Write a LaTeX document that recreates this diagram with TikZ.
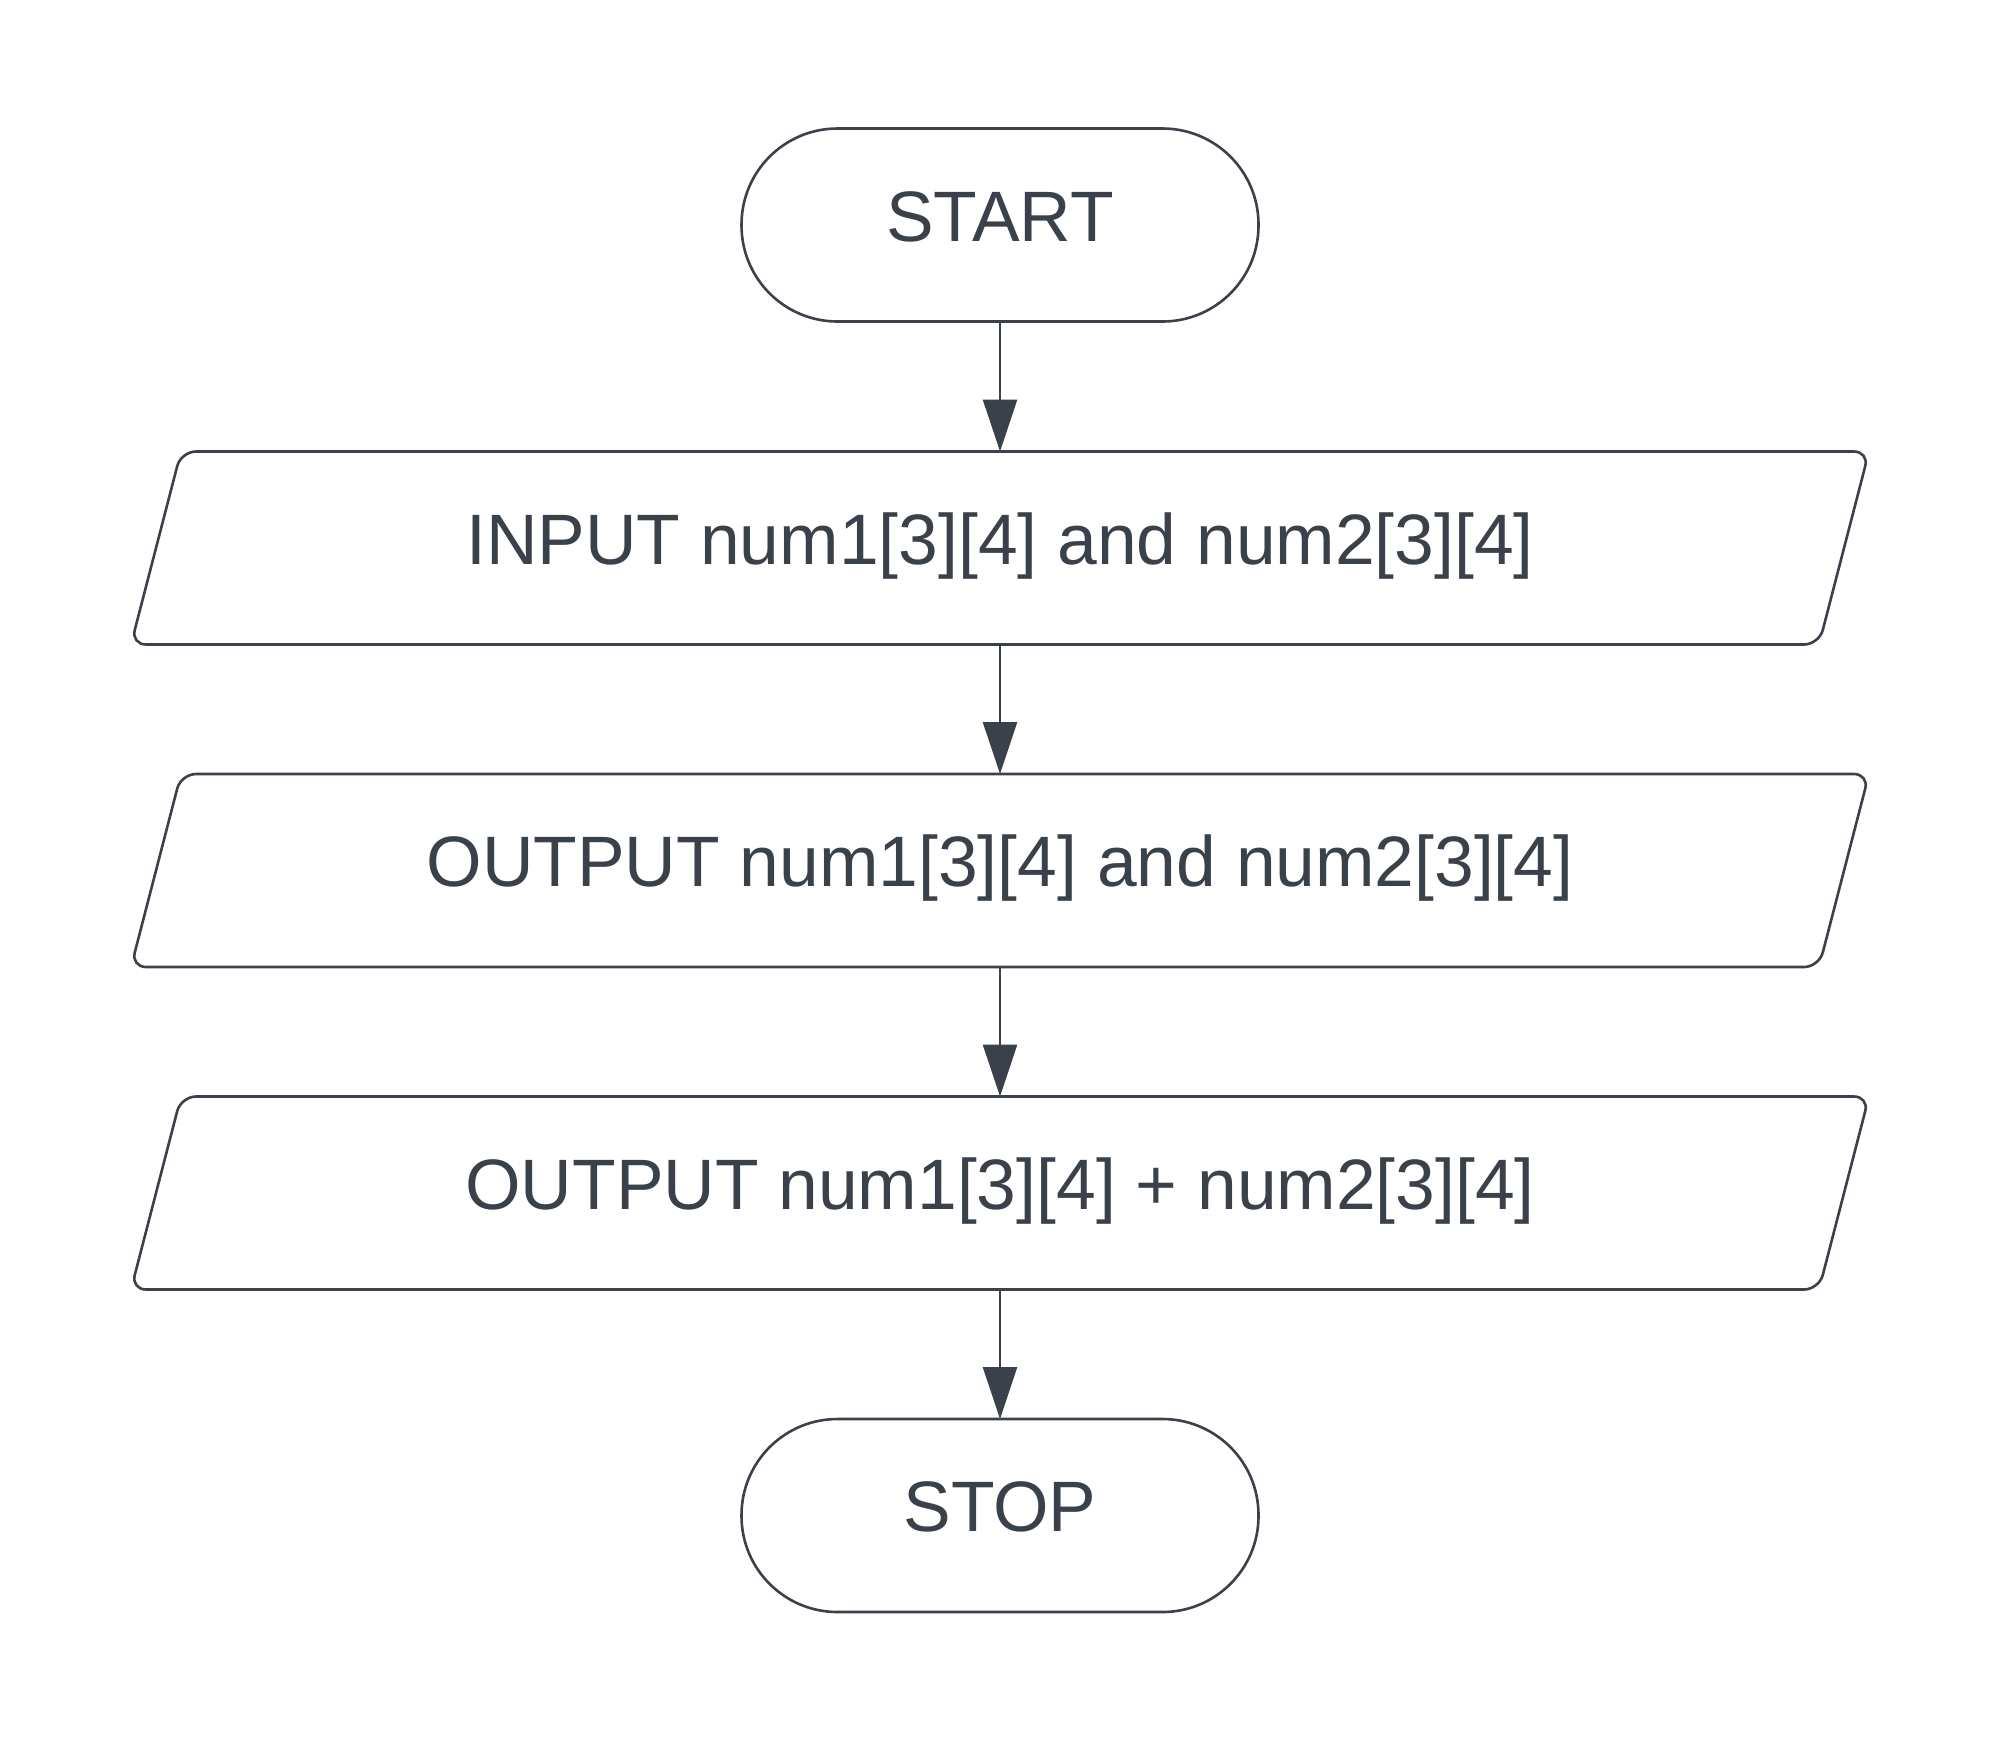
\documentclass[tikz,border=0pt]{standalone}
\usepackage{fontspec}
\setmainfont{Liberation Sans}
\usetikzlibrary{arrows.meta}
\definecolor{ink}{HTML}{3A414A}
\tikzset{
  px/.style={x=0.5pt,y=-0.5pt},
  pill/.style={draw=ink, line width=1.3pt, rectangle, rounded corners=48pt,
    minimum width=258.5pt, minimum height=96.5pt, inner sep=0pt, outer sep=0pt,
    text=ink, font=\fontsize{35.7pt}{40pt}\selectfont, text height=16pt, text depth=0pt},
  iobox/.style={rectangle, minimum width=869pt, minimum height=96.5pt, inner sep=0pt, outer sep=0pt,
    text=ink, font=\fontsize{35.7pt}{40pt}\selectfont, text height=16pt, text depth=0pt},
  ioshape/.style={draw=ink, line width=1.3pt, rounded corners=7.5pt},
  flow/.style={draw=ink, line width=1.3pt, -{Triangle[length=26pt,width=17pt]}, color=ink}
}
\newcommand{\ioframe}[1]{%
  \draw[ioshape] ([xshift=25pt]#1.north west) -- (#1.north east) -- ([xshift=-25pt]#1.south east) -- (#1.south west) -- cycle;}
\begin{document}
\begin{tikzpicture}[px]
\useasboundingbox (0,0) rectangle (2000,1741);
\fill[white] (0,0) rectangle (2000,1741);
\node[pill] (start) at (1000,225) {START};
\node[iobox] (in1) at (1000,548) {INPUT num1[3][4] and num2[3][4]};
\node[iobox] (out1) at (1000,870.5) {OUTPUT num1[3][4] and num2[3][4]};
\node[iobox] (out2) at (1000,1193) {OUTPUT num1[3][4] + num2[3][4]};
\node[pill] (stop) at (1000,1515.5) {STOP};
\ioframe{in1}
\ioframe{out1}
\ioframe{out2}
\draw[flow] (start.south) -- (in1.north);
\draw[flow] (in1.south) -- (out1.north);
\draw[flow] (out1.south) -- (out2.north);
\draw[flow] (out2.south) -- (stop.north);
\end{tikzpicture}
\end{document}
